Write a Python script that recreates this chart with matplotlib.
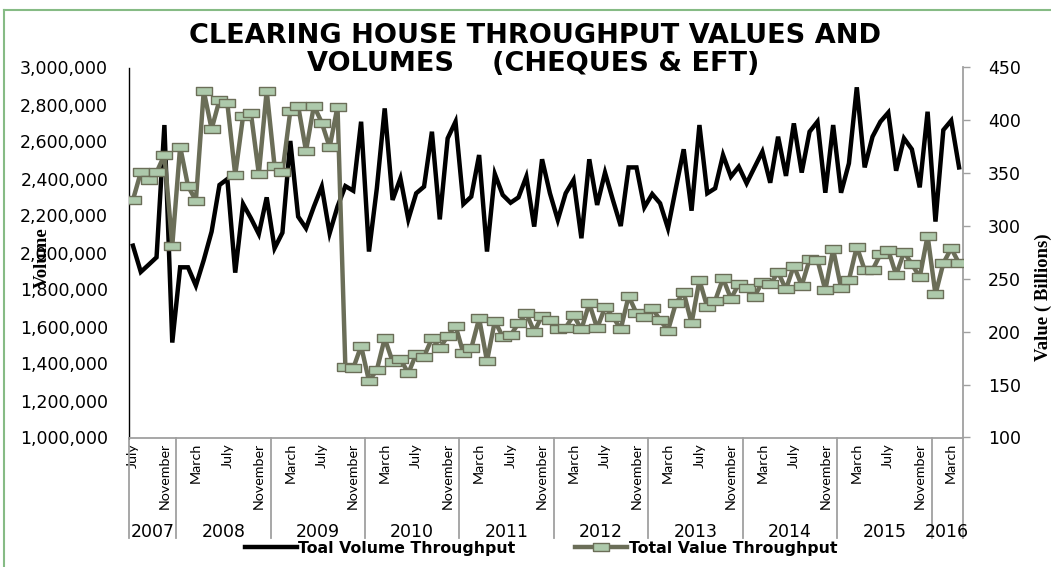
import numpy as np
import matplotlib
matplotlib.use("Agg")
import matplotlib.pyplot as plt
from matplotlib.lines import Line2D
import matplotlib.transforms as mtransforms

# ---------------- data (monthly, July 2007 - April 2016) ----------------
years = ["2007", "2008", "2009", "2010", "2011", "2012", "2013", "2014", "2015", "2016"]
months_in_year = [6, 12, 12, 12, 12, 12, 12, 12, 12, 4]
month_tick_labels = ["July", "November", "March"]  # repeating every 4 months

volume = [
    2037000, 1895000, 1934000, 1974000, 2689000, 1513000, 1920000, 1920000, 1821000, 1959000,
    2113000, 2365000, 2397000, 1891000, 2262000, 2185000, 2100000, 2298000, 2023000, 2107000,
    2603000, 2194000, 2131000, 2248000, 2356000, 2104000, 2248000, 2359000, 2334000, 2707000,
    2005000, 2347000, 2779000, 2284000, 2401000, 2179000, 2320000, 2356000, 2653000, 2179000,
    2617000, 2707000, 2262000, 2302000, 2527000, 2005000, 2424000, 2311000, 2269000, 2298000,
    2410000, 2140000, 2504000, 2320000, 2176000, 2320000, 2392000, 2077000, 2504000, 2257000,
    2432000, 2284000, 2143000, 2460000, 2460000, 2244000, 2316000, 2266000, 2131000, 2347000,
    2558000, 2226000, 2689000, 2320000, 2347000, 2527000, 2410000, 2464000, 2374000, 2460000,
    2545000, 2377000, 2626000, 2414000, 2698000, 2432000, 2653000, 2707000, 2323000, 2689000,
    2323000, 2482000, 2893000, 2460000, 2626000, 2707000, 2756000, 2442000, 2617000, 2558000,
    2352000, 2761000, 2167000, 2662000, 2713000, 2460000,
]

value = [
    324.7, 350.8, 343.6, 350.8, 367.2, 281.5, 375.1, 337.9, 324.0, 427.8,
    391.8, 419.3, 416.1, 348.3, 404.1, 406.6, 349.3, 428.1, 356.8, 350.8,
    408.8, 413.6, 371.0, 413.9, 397.8, 374.5, 413.0, 166.4, 165.4, 186.6,
    153.5, 163.9, 193.8, 171.8, 174.3, 160.7, 179.0, 176.5, 193.8, 184.4,
    196.0, 205.8, 179.6, 184.4, 212.7, 172.4, 210.2, 195.4, 196.7, 208.0,
    217.5, 200.1, 215.0, 211.2, 202.3, 203.9, 215.6, 202.3, 226.9, 203.3,
    223.2, 214.3, 202.3, 233.9, 217.5, 214.3, 222.2, 211.2, 201.1, 226.9,
    237.3, 208.0, 249.0, 223.2, 229.5, 250.6, 231.3, 245.2, 241.1, 233.2,
    247.4, 244.9, 256.2, 240.2, 262.6, 243.6, 268.5, 267.9, 239.5, 278.0,
    241.7, 249.0, 280.5, 258.5, 258.5, 273.3, 277.4, 253.7, 275.2, 264.1,
    251.5, 290.9, 235.4, 264.8, 279.0, 264.8,
]

# ---------------- figure ----------------
W, H = 1051, 567
fig = plt.figure(figsize=(W / 100, H / 100), dpi=100)
ax = fig.add_axes([129 / W, 1 - 437.5 / H, (963 - 129) / W, (437.5 - 67.5) / H])
ax2 = ax.twinx()

n = len(volume)
x = np.arange(n)

line_vol, = ax.plot(x, volume, color="black", lw=3.2, solid_joinstyle="miter",
                    label="Toal Volume Throughput", zorder=3)

rect = [(-1, -0.55), (1, -0.55), (1, 0.55), (-1, 0.55), (-1, -0.55)]
line_val, = ax2.plot(x, value, color="#6b6e58", lw=3.2, marker=rect, ms=11.5,
                     markerfacecolor="#adc9ab", markeredgecolor="#6b6e58",
                     markeredgewidth=1.0, label="Total Value Throughput", zorder=3)

ax.set_xlim(-0.5, n - 0.5)
ax.set_ylim(1_000_000, 3_000_000)
ax.set_yticks(np.arange(1_000_000, 3_000_001, 200_000))
ax.yaxis.set_major_formatter(matplotlib.ticker.FuncFormatter(lambda v, p: f"{int(v):,}"))
ax2.set_ylim(100, 450)
ax2.set_yticks(np.arange(100, 451, 50))

TICK_FS = 12.5
ax.tick_params(axis="y", length=0, pad=15, labelsize=TICK_FS)
ax2.tick_params(axis="y", length=5, width=1, color="#a0a0a0", direction="out", pad=13,
                labelsize=TICK_FS)
for lab in ax.get_yticklabels() + ax2.get_yticklabels():
    lab.set_fontfamily("DejaVu Sans")

# spines
for s in ["top", "right"]:
    ax.spines[s].set_visible(False)
ax.spines["left"].set_color("black")
ax.spines["left"].set_linewidth(1.0)
ax.spines["bottom"].set_color("#a0a0a0")
ax.spines["bottom"].set_linewidth(1.3)
for s in ["top", "left", "bottom"]:
    ax2.spines[s].set_visible(False)
ax2.spines["right"].set_color("#a0a0a0")
ax2.spines["right"].set_linewidth(1.3)

# month tick labels (every 4 months)
tick_pos = np.arange(0, n, 4)
tick_labs = [month_tick_labels[k % 3] for k in range(len(tick_pos))]
ax.set_xticks(tick_pos)
ax.set_xticklabels(tick_labs, rotation=90, va="top", ha="center",
                   family="Lato", fontsize=10.3)
ax.tick_params(axis="x", length=0, pad=4)

# year labels and separators
trans = mtransforms.blended_transform_factory(ax.transData, ax.transAxes)
bounds = np.concatenate([[0], np.cumsum(months_in_year)]) - 0.5
for b in bounds:
    ax.add_line(Line2D([b, b], [0, -0.272], transform=trans, color="#a0a0a0",
                       lw=1.3, clip_on=False))
for yname, b0, b1 in zip(years, bounds[:-1], bounds[1:]):
    ax.text((b0 + b1) / 2, -0.255, yname, transform=trans, ha="center", va="center",
            fontsize=TICK_FS, family="DejaVu Sans")

# axis titles
fig.text(42 / W, 1 - 258 / H, "Volume", rotation=90, ha="center", va="center",
         family="Liberation Serif", fontweight="bold", fontsize=13.5)
fig.text(1043 / W, 1 - 297 / H, "Value ( Billions)", rotation=90, ha="center", va="center",
         family="Liberation Serif", fontweight="bold", fontsize=13.5)

# chart title
fig.text(535 / W, 1 - 36 / H, "CLEARING HOUSE THROUGHPUT VALUES AND", ha="center",
         va="center", family="DejaVu Sans", fontweight="bold", fontsize=19.5)
fig.text(533 / W, 1 - 64 / H, "VOLUMES    (CHEQUES & EFT)", ha="center",
         va="center", family="DejaVu Sans", fontweight="bold", fontsize=19.5)

# legend
leg = fig.legend(handles=[line_vol, line_val], loc="center", bbox_to_anchor=(541 / W, 1 - 548 / H),
                 ncol=2, frameon=False, handlelength=3.3, handletextpad=0.1,
                 columnspacing=3.8, prop=dict(family="DejaVu Sans", weight="bold", size=11.3))

# green frame
fig.add_artist(Line2D([4 / W, 4 / W], [0, 1 - 10 / H], transform=fig.transFigure,
                      color="#86bb85", lw=1.5))
fig.add_artist(Line2D([4 / W, 1], [1 - 10 / H, 1 - 10 / H], transform=fig.transFigure,
                      color="#86bb85", lw=1.5))

fig.savefig("out.png", dpi=100)
